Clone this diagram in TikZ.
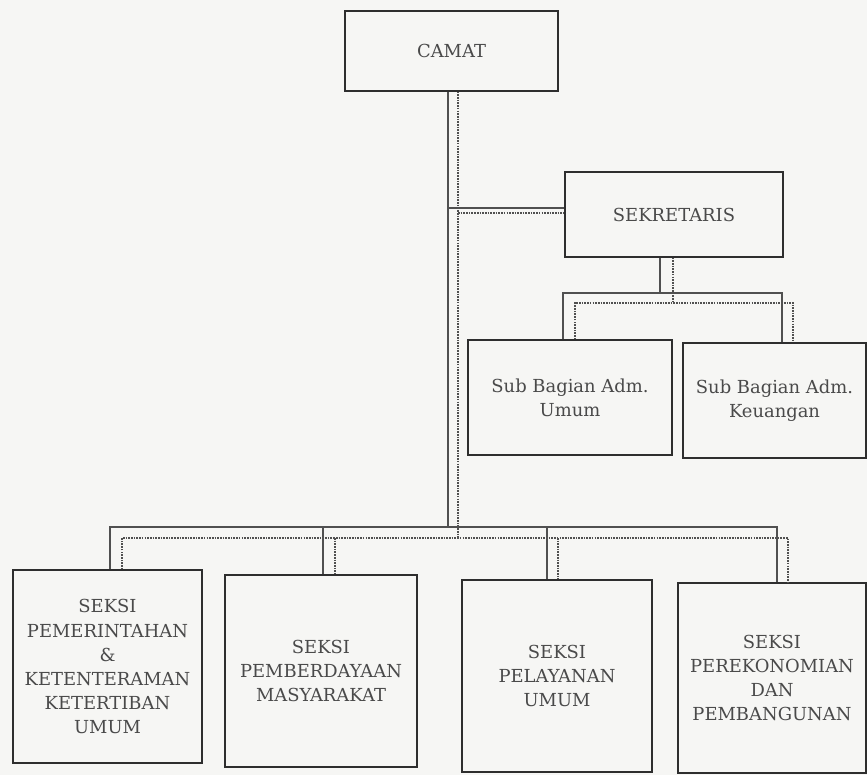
\documentclass[tikz,border=0pt]{standalone}
\usepackage{fontspec}
\setmainfont{DejaVu Serif}
\definecolor{bgc}{HTML}{F6F6F4}
\definecolor{boxc}{HTML}{2E2E2E}
\definecolor{txtc}{HTML}{4A4A4A}
\definecolor{linec}{HTML}{505050}
\tikzset{
  orgbox/.style={draw=boxc, line width=1.1pt, align=center, inner sep=0pt, text=txtc,
    font=\fontsize{15.3}{20.5}\selectfont},
  solidln/.style={draw=linec, line width=0.9pt},
  dashln/.style={draw=linec, line width=0.9pt, dash pattern=on 1.4pt off 0.9pt},
}
\begin{document}
\begin{tikzpicture}[x=0.03cm,y=-0.03cm]
\fill[bgc] (0,0) rectangle (867,775);
\useasboundingbox (0,0) rectangle (867,775);

% boxes
\node[orgbox, minimum width=6.39cm, minimum height=2.4cm] (camat) at (451.5,51) {CAMAT};
\node[orgbox, minimum width=6.54cm, minimum height=2.55cm] (sek) at (674,214.5) {SEKRETARIS};
\node[orgbox, minimum width=6.12cm, minimum height=3.45cm] (sbu) at (570,397.5) {Sub Bagian Adm.\\Umum};
\node[orgbox, minimum width=5.49cm, minimum height=3.45cm] (sbk) at (774.5,400.5) {Sub Bagian Adm.\\Keuangan};
\node[orgbox, minimum width=5.67cm, minimum height=5.79cm] (s1) at (107.5,666.5) {SEKSI\\PEMERINTAHAN\\\&\\KETENTERAMAN\\KETERTIBAN\\UMUM};
\node[orgbox, minimum width=5.76cm, minimum height=5.76cm] (s2) at (321,671) {SEKSI\\PEMBERDAYAAN\\MASYARAKAT};
\node[orgbox, minimum width=5.7cm, minimum height=5.76cm] (s3) at (557,676) {SEKSI\\PELAYANAN\\UMUM};
\node[orgbox, minimum width=5.64cm, minimum height=5.7cm] (s4) at (772,678) {SEKSI\\PEREKONOMIAN\\DAN\\PEMBANGUNAN};

% reference coordinates
\coordinate (sx) at (448,0);
\coordinate (dx) at (458,0);
\coordinate (ySek) at (0,208);
\coordinate (yDSek) at (0,213);
\coordinate (sekS) at (660,0);
\coordinate (sekD) at (673,0);
\coordinate (ySub) at (0,293);
\coordinate (yDSub) at (0,303);
\coordinate (su1) at (563,0);
\coordinate (su2) at (782,0);
\coordinate (du1) at (575,0);
\coordinate (du2) at (793,0);
\coordinate (yBar) at (0,527);
\coordinate (yDBar) at (0,538);
\coordinate (a1) at (110,0);
\coordinate (a2) at (323,0);
\coordinate (a3) at (547,0);
\coordinate (a4) at (777,0);
\coordinate (b1) at (122,0);
\coordinate (b2) at (335,0);
\coordinate (b3) at (558,0);
\coordinate (b4) at (788,0);

% camat trunk
\draw[solidln] (camat.south -| sx) -- (sx |- yBar);
\draw[dashln] (camat.south -| dx) -- (dx |- yDBar);
% to sekretaris
\draw[solidln] (sx |- ySek) -- (sek.west |- ySek);
\draw[dashln] (dx |- yDSek) -- (sek.west |- yDSek);
% sekretaris to sub bagian
\draw[solidln] (sek.south -| sekS) -- (sekS |- ySub);
\draw[solidln] (sbu.north -| su1) |- (su2 |- ySub) -- (sbk.north -| su2);
\draw[dashln] (sek.south -| sekD) -- (sekD |- yDSub);
\draw[dashln] (sbu.north -| du1) |- (du2 |- yDSub) -- (sbk.north -| du2);
% bottom bar
\draw[solidln] (s1.north -| a1) |- (a4 |- yBar) -- (s4.north -| a4);
\draw[solidln] (a2 |- yBar) -- (s2.north -| a2);
\draw[solidln] (a3 |- yBar) -- (s3.north -| a3);
\draw[dashln] (s1.north -| b1) |- (b4 |- yDBar) -- (s4.north -| b4);
\draw[dashln] (b2 |- yDBar) -- (s2.north -| b2);
\draw[dashln] (b3 |- yDBar) -- (s3.north -| b3);
\end{tikzpicture}
\end{document}
